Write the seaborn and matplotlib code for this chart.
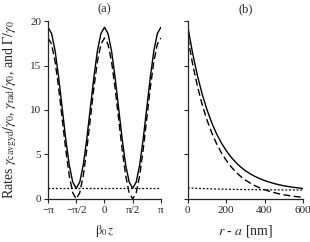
import numpy as np
import pandas as pd
import matplotlib
matplotlib.use("Agg")
import matplotlib.pyplot as plt
import seaborn as sns

# Panel (a): position along guide, in units of pi
z_pi = [-1.0, -0.9375, -0.875, -0.8125, -0.75, -0.6875, -0.625, -0.5625, -0.5,
        -0.4375, -0.375, -0.3125, -0.25, -0.1875, -0.125, -0.0625, 0.0,
        0.0625, 0.125, 0.1875, 0.25, 0.3125, 0.375, 0.4375, 0.5,
        0.5625, 0.625, 0.6875, 0.75, 0.8125, 0.875, 0.9375, 1.0]
gyd_a = [18.1, 17.4, 15.45, 12.5, 9.05, 5.6, 2.65, 0.7, 0.0,
         0.7, 2.65, 5.6, 9.05, 12.5, 15.45, 17.4, 18.1,
         17.4, 15.45, 12.5, 9.05, 5.6, 2.65, 0.7, 0.0,
         0.7, 2.65, 5.6, 9.05, 12.5, 15.45, 17.4, 18.1]
rad_a = [1.2] * len(z_pi)
tot_a = [19.3, 18.6, 16.65, 13.7, 10.25, 6.8, 3.85, 1.9, 1.2,
         1.9, 3.85, 6.8, 10.25, 13.7, 16.65, 18.6, 19.3,
         18.6, 16.65, 13.7, 10.25, 6.8, 3.85, 1.9, 1.2,
         1.9, 3.85, 6.8, 10.25, 13.7, 16.65, 18.6, 19.3]

# Panel (b): distance from fibre surface [nm]
r_nm = [0, 25, 50, 75, 100, 125, 150, 175, 200, 225, 250, 275, 300,
        325, 350, 375, 400, 425, 450, 475, 500, 525, 550, 575, 600]
gyd_b = [18.1, 15.14, 12.66, 10.59, 8.86, 7.41, 6.2, 5.19, 4.34, 3.63, 3.04, 2.54, 2.12,
         1.78, 1.49, 1.24, 1.04, 0.86, 0.71, 0.58, 0.47, 0.38, 0.3, 0.24, 0.18]
rad_b = [1.25, 1.22, 1.19, 1.17, 1.15, 1.13, 1.11, 1.1, 1.09, 1.08, 1.07, 1.06, 1.05,
         1.05, 1.04, 1.04, 1.03, 1.03, 1.02, 1.02, 1.01, 1.01, 1.01, 1.0, 1.0]
tot_b = [19.35, 16.36, 13.85, 11.76, 10.01, 8.54, 7.31, 6.29, 5.43, 4.71, 4.11, 3.6, 3.17,
         2.83, 2.53, 2.28, 2.07, 1.89, 1.73, 1.6, 1.48, 1.39, 1.31, 1.24, 1.18]

z_ticks = [-1, -0.5, 0, 0.5, 1]
z_labels = ["\u2212\u03c0", "\u2212\u03c0/2", "0", "\u03c0/2", "\u03c0"]
r_ticks = [0, 200, 400, 600]
y_ticks = [0, 5, 10, 15, 20]

sns.set_style("ticks")
plt.rcParams["font.family"] = ["Liberation Serif", "DejaVu Serif"]
plt.rcParams["mathtext.fontset"] = "stix"
plt.rcParams["font.size"] = 8

fig = plt.figure(figsize=(3.1, 2.42), dpi=100)
ax1 = fig.add_axes([0.155, 0.178, 0.364, 0.735])
ax2 = fig.add_axes([0.606, 0.178, 0.371, 0.735])

dash = (0, (5, 2.5))
dot = (0, (1.5, 1.5))

sns.lineplot(x=z_pi, y=tot_a, ax=ax1, color="black", lw=1.0)
sns.lineplot(x=z_pi, y=gyd_a, ax=ax1, color="black", lw=1.0, ls=dash)
sns.lineplot(x=z_pi, y=rad_a, ax=ax1, color="black", lw=0.9, ls=dot)

sns.lineplot(x=r_nm, y=tot_b, ax=ax2, color="black", lw=1.0)
sns.lineplot(x=r_nm, y=gyd_b, ax=ax2, color="black", lw=1.0, ls=dash)
sns.lineplot(x=r_nm, y=rad_b, ax=ax2, color="black", lw=0.9, ls=dot)

for ax in (ax1, ax2):
    ax.set_ylim(0, 20)
    ax.set_yticks(y_ticks)
    sns.despine(ax=ax)
    ax.spines["left"].set_linewidth(0.9)
    ax.spines["bottom"].set_linewidth(0.9)
    ax.tick_params(length=3, width=0.8, labelsize=8, pad=2)

ax1.set_xlim(-1, 1)
ax1.set_xticks(z_ticks)
ax1.set_xticklabels(z_labels)
ax1.set_xlabel(r"$\mathrm{\beta}_0\,z$", fontsize=9, labelpad=6)
ax1.set_ylabel(r"Rates $\gamma_{\rm cavgyd}/\gamma_0$, $\gamma_{\rm rad}/\gamma_0$, and $\Gamma/\gamma_0$",
               fontsize=10)
ax1.yaxis.set_label_coords(-0.26, 0.5)
ax1.set_title("(a)", fontsize=9, pad=6)

ax2.set_xlim(0, 600)
ax2.set_xticks(r_ticks)
ax2.set_yticklabels([])
ax2.set_xlabel(r"$r$ - $a$ [nm]", fontsize=10, labelpad=6)
ax2.set_title("(b)", fontsize=9, pad=6)

fig.savefig("out.png", dpi=100)
